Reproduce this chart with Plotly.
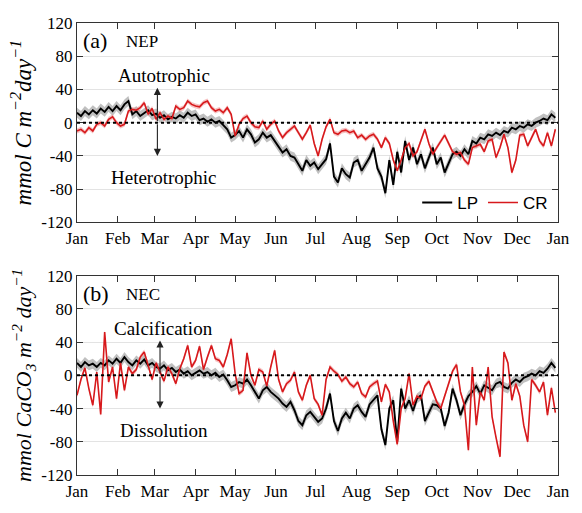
import plotly.graph_objects as go
from plotly.subplots import make_subplots

# ---------------- data (sampled every 3 days, day of year) ----------------
STEP = 3
months = ["Jan", "Feb", "Mar", "Apr", "May", "Jun", "Jul", "Aug", "Sep", "Oct", "Nov", "Dec", "Jan"]
month_start = [0, 31, 59, 90, 120, 151, 181, 212, 243, 273, 304, 334, 365]
y_ticks = [-120, -80, -40, 0, 40, 80, 120]

nep_lp = [12, 8, 14, 10, 15, 11, 17, 13, 19, 14,
          20, 15, 22, 26, 10, 14, 8, 12, 15, 9,
          11, 6, 9, 4, 7, 5, 9, 6, 12, 8,
          10, 3, 5, 1, 4, 0, 2, -3, -8, -18,
          -15, -10, -18, -8, -14, -24, -20, -12, -18, -15,
          -22, -30, -36, -32, -40, -42, -50, -58, -45, -52,
          -48, -56, -50, -44, -25, -65, -72, -55, -62, -66,
          -48, -45, -58, -50, -42, -30, -55, -65, -85, -45,
          -75, -35, -60, -22, -45, -30, -50, -38, -55, -42,
          -30, -50, -42, -60, -48, -38, -35, -40, -32, -38,
          -22, -25, -18, -20, -14, -16, -12, -15, -10, -12,
          -6, -8, -4, -6, -2, -4, 0, 2, 5, 3,
          10, 6]
nep_cr = [-10, -8, -12, -6, -10, -2, 0, -4, 4, 7,
          0, -4, -2, 14, 16, 15, 18, 24, 10, 17,
          4, 12, 4, 8, 5, 20, 16, 18, 26, 22,
          20, 19, 24, 26, 18, 14, 16, 12, 18, 10,
          -16, -2, 5, 8, 0, -5, -6, 2, -8, -2,
          2, -10, -18, -12, -8, -4, -12, -20, -12, -3,
          -25, -40, -20, -5, 4, -12, -14, -10, -9, -12,
          -10, -18, -15, -20, -16, -14, -20, -30, -18, -25,
          -45, -58, -45, -30, -25, -40, -35, -20, -8, -25,
          -38, -30, -22, -15, -25, -35, -38, -36, -45, -50,
          -30, -28, -26, -35, -22, -20, -42, -30, -14, -30,
          -60, -45, -15, -14, -28, -18, -8, -22, -28, -12,
          -28, -8]
nec_lp = [15, 10, 16, 12, 14, 10, 15, 12, 18, 14,
          20, 15, 22, 16, 12, 18, 14, 19, 12, 15,
          10, 8, 12, 6, 9, 4, 7, 2, 5, 0,
          3, 6, 2, 4, 0, 3, -2, 1, -6, -14,
          -12, -8, -10, -5, -12, -20, -28, -18, -14, -20,
          -24, -28, -34, -38, -32, -42, -55, -60, -48, -44,
          -50, -56, -52, -40, -22, -55, -67, -52, -45, -52,
          -40, -36, -44, -50, -35, -30, -24, -65, -84, -40,
          -30, -80, -16, -40, -30, -43, -28, -24, -55, -45,
          -35, -36, -40, -61, -45, -16, -30, -48, -35, -25,
          -20, -13, -22, -12, -15, -18, -10, -8, -14, -16,
          -9, -5, -8, -3, -1, 2, 0, 5, 3, 8,
          15, 9]
nec_cr = [-24, -5, 9, -16, -36, 4, -47, 52, -8, 10,
          -28, 15, -18, 10, 2, 7, 22, 28, 12, -5,
          15, 5, -7, 10, 2, -10, 8, 20, 36, 10,
          18, 35, 7, 22, 36, 20, 18, 10, 25, 44,
          2, -22, -18, 27, 0, -12, 7, 4, -13, 10,
          30, -5, -20, -10, -6, 4, -20, -30, -12, 0,
          -28, -35, -48, -5, 10, 5, 1, -7, -2, -10,
          -14, -8, -22, -26, -14, -10, -7, -32, -11, -20,
          -55, -83, -40, -28, 2, -36, -25, -28, -13, -7,
          -20, -32, -40, -25, -12, 5, 13, -20, -36, -90,
          10, -60, -20, -30, 10, -50, -75, -98, 28, 15,
          -30, -10, -25, -60, -80, -5, -12, -20, -8, -48,
          -15, -45]

LP_CI = 6    # half-width of the LP uncertainty band
CR_CI = 3    # half-width of the CR uncertainty band

days = [i * STEP for i in range(len(nep_lp))]

BLACK = "#000000"
RED = "#d7191c"
GRAY_BAND = "rgba(140,140,140,0.55)"
PINK_BAND = "rgba(235,120,120,0.45)"
SERIF = "Liberation Serif"

fig = make_subplots(rows=2, cols=1, vertical_spacing=0.118)


def add_band(row, vals, ci, color):
    fig.add_trace(go.Scatter(x=days, y=[v + ci for v in vals], mode="lines",
                             line=dict(width=0), hoverinfo="skip", showlegend=False),
                  row=row, col=1)
    fig.add_trace(go.Scatter(x=days, y=[v - ci for v in vals], mode="lines",
                             line=dict(width=0), fill="tonexty", fillcolor=color,
                             hoverinfo="skip", showlegend=False),
                  row=row, col=1)


for row, lp, cr in [(1, nep_lp, nep_cr), (2, nec_lp, nec_cr)]:
    add_band(row, lp, LP_CI, GRAY_BAND)
    add_band(row, cr, CR_CI, PINK_BAND)
    fig.add_trace(go.Scatter(x=days, y=lp, mode="lines", name="LP",
                             line=dict(color=BLACK, width=1.9), showlegend=(row == 1)),
                  row=row, col=1)
    fig.add_trace(go.Scatter(x=days, y=cr, mode="lines", name="CR",
                             line=dict(color=RED, width=1.6), showlegend=(row == 1)),
                  row=row, col=1)

axis_common = dict(showline=True, linecolor="#333333", linewidth=1.3, mirror="ticks",
                   ticks="inside", ticklen=6, tickcolor="#333333", tickwidth=1.3,
                   tickfont=dict(family=SERIF, size=17, color="black"))

for row in (1, 2):
    fig.update_xaxes(range=[0, 365], tickvals=month_start, ticktext=months,
                     showgrid=False, zeroline=False, **axis_common, row=row, col=1)
    fig.update_yaxes(range=[-120, 120], tickvals=y_ticks,
                     ticktext=[str(t) for t in y_ticks],
                     showgrid=True, gridcolor="#e3e3e3", gridwidth=1.2, zeroline=False,
                     **axis_common, row=row, col=1)

fig.update_yaxes(title=dict(text="<i>mmol C m<sup>−2</sup>day<sup>−1</sup></i>",
                            font=dict(family=SERIF, size=23, color="black"), standoff=3),
                 row=1, col=1)
fig.update_yaxes(title=dict(text="<i>mmol CaCO<sub>3</sub> m<sup>−2</sup> day<sup>−1</sup></i>",
                            font=dict(family=SERIF, size=22, color="black"), standoff=3),
                 row=2, col=1)

# dotted zero lines
for xr, yr in [("x", "y"), ("x2", "y2")]:
    fig.add_shape(type="line", xref=f"{xr} domain", yref=yr, x0=0, x1=1, y0=0, y1=0,
                  line=dict(color="black", width=2, dash="dot"))

# annotations
txt = dict(showarrow=False, font=dict(family=SERIF, size=19, color="black"))
panel_labels = [
    ("x domain", "y domain", "(a)", "NEP", "Autotrophic", "Heterotrophic", 61),
    ("x2 domain", "y2 domain", "(b)", "NEC", "Calcification", "Dissolution", 63),
]
for i, (xd, yd, lab, name, up, down, xarrow) in enumerate(panel_labels):
    fig.add_annotation(xref=xd, yref=yd, x=0.008, y=0.91, xanchor="left", yanchor="middle",
                       text=lab, showarrow=False, font=dict(family=SERIF, size=22, color="black"))
    fig.add_annotation(xref=xd, yref=yd, x=0.098, y=0.905, xanchor="left", yanchor="middle",
                       text=name, showarrow=False, font=dict(family=SERIF, size=17, color="black"))
    fig.add_annotation(xref=xd, yref=yd, x=0.18, y=0.737, xanchor="center", yanchor="middle",
                       text=up, **txt)
    fig.add_annotation(xref=xd, yref=yd, x=0.18, y=0.225, xanchor="center", yanchor="middle",
                       text=down, **txt)
    xa = "x" if i == 0 else "x2"
    ya = "y" if i == 0 else "y2"
    for tip in (42, -40):
        fig.add_annotation(xref=xa, yref=ya, axref=xa, ayref=ya, x=xarrow, y=tip,
                           ax=xarrow, ay=0, text="", showarrow=True, arrowhead=2,
                           arrowsize=1.3, arrowwidth=1.1, arrowcolor="#222222")

fig.update_layout(
    width=582, height=513,
    margin=dict(l=77, r=16, t=23, b=25),
    paper_bgcolor="white", plot_bgcolor="white",
    showlegend=True,
    legend=dict(orientation="h", traceorder="normal", x=0.99, xanchor="right", y=0.602,
                yanchor="middle", bgcolor="rgba(0,0,0,0)",
                font=dict(family="Liberation Sans", size=17, color="black"),
                itemwidth=30),
)

fig.write_html("out.html")
